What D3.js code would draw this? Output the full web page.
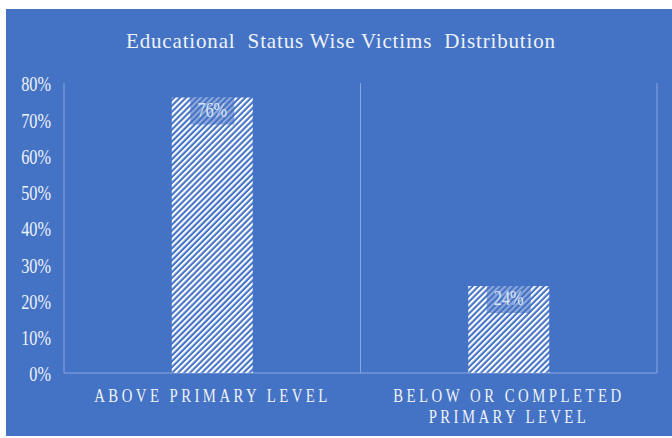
<!DOCTYPE html>
<html>
<head>
<meta charset="utf-8">
<script src="https://cdn.jsdelivr.net/npm/d3@7"></script>
<style>
  body { margin: 0; background: #fff; }
  text { font-family: "Liberation Serif", "DejaVu Serif", serif; fill: #eef2fa; }
</style>
</head>
<body>
<script>
//chart data
var categories = ["ABOVE PRIMARY LEVEL", "BELOW OR COMPLETED PRIMARY LEVEL"];
var catLines = [["ABOVE PRIMARY LEVEL"], ["BELOW OR COMPLETED", "PRIMARY LEVEL"]];
var values = [0.76, 0.24];
var yTicks = [0, 0.1, 0.2, 0.3, 0.4, 0.5, 0.6, 0.7, 0.8];
var title = "Educational  Status Wise Victims  Distribution";

var width = 672, height = 438;

var svg = d3.select("body")
  .append("svg")
  .attr("width", width)
  .attr("height", height);

//blue chart background
svg.append("rect")
  .attr("x", 6).attr("y", 9)
  .attr("width", width - 6).attr("height", height - 11)
  .attr("fill", "#4472c4");

//hatch pattern for bars
var defs = svg.append("defs");
defs.append("pattern")
  .attr("id", "hatch")
  .attr("patternUnits", "userSpaceOnUse")
  .attr("width", 4.2).attr("height", 4.2)
  .attr("patternTransform", "rotate(45)")
  .append("rect")
  .attr("width", 2.1).attr("height", 4.2)
  .attr("fill", "#fff");

//scales
var x = d3.scaleBand()
  .domain(categories)
  .range([64, 657])
  .paddingInner(0.727)
  .paddingOuter(0.3635);

var y = d3.scaleLinear()
  .domain([0, 0.8])
  .range([373, 83]);

//category separator lines
var step = x.step(), x0 = x.range()[0];
svg.selectAll(".sep")
  .data(d3.range(categories.length + 1))
  .enter()
  .append("line")
  .attr("class", "sep")
  .attr("x1", function(i){ return x0 + i * step; })
  .attr("x2", function(i){ return x0 + i * step; })
  .attr("y1", y(0.8))
  .attr("y2", y(0))
  .attr("stroke", "#8aa6de")
  .attr("stroke-width", 1);

//base line
svg.append("line")
  .attr("x1", x.range()[0]).attr("x2", x.range()[1])
  .attr("y1", y(0)).attr("y2", y(0))
  .attr("stroke", "#8aa6de")
  .attr("stroke-width", 1.2);

//bars
svg.selectAll(".bar")
  .data(values)
  .enter()
  .append("rect")
  .attr("class", "bar")
  .attr("x", function(d, i){ return x(categories[i]); })
  .attr("y", function(d){ return y(d); })
  .attr("width", x.bandwidth())
  .attr("height", function(d){ return y(0) - y(d); })
  .attr("fill", "url(#hatch)");

//data labels
var labels = svg.selectAll(".lbl")
  .data(values)
  .enter()
  .append("g")
  .attr("class", "lbl")
  .attr("transform", function(d, i){
    return "translate(" + (x(categories[i]) + x.bandwidth() / 2) + "," + y(d) + ")";
  });

labels.append("rect")
  .attr("x", -22).attr("y", 0)
  .attr("width", 44).attr("height", 27)
  .attr("fill", "#4472c4")
  .attr("opacity", 0.6);

labels.append("text")
  .attr("transform", "translate(0,19) scale(0.74,1)")
  .attr("text-anchor", "middle")
  .style("font-size", "22px")
  .style("fill", "#dbe4f5")
  .text(function(d){ return d3.format(".0%")(d); });

//y axis
var yAxis = svg.append("g")
  .attr("transform", "translate(64,0)")
  .call(d3.axisLeft(y).tickValues(yTicks).tickSize(0).tickFormat(d3.format(".0%")));
yAxis.select(".domain").remove();
yAxis.selectAll("text")
  .attr("x", -13 / 0.74)
  .attr("dy", "0.36em")
  .attr("transform", "scale(0.74,1)")
  .style("font-size", "22px")
  .style("font-family", "Liberation Serif, serif")
  .attr("fill", "#eef2fa");

//x labels
var xLab = svg.selectAll(".xlab")
  .data(catLines)
  .enter()
  .append("g")
  .attr("class", "xlab")
  .attr("transform", function(d, i){
    return "translate(" + (x(categories[i]) + x.bandwidth() / 2 - 1.5) + ",0)";
  });

var lineWidths = { "ABOVE PRIMARY LEVEL": 233, "BELOW OR COMPLETED": 228, "PRIMARY LEVEL": 157 };
xLab.selectAll("text")
  .data(function(d){ return d; })
  .enter()
  .append("text")
  .attr("transform", function(d, j){ return "translate(0," + (401.5 + j * 21) + ") scale(0.82,1)"; })
  .attr("text-anchor", "middle")
  .attr("textLength", function(d){ return lineWidths[d] / 0.82; })
  .attr("lengthAdjust", "spacing")
  .style("font-size", "18px")
  .text(function(d){ return d; });

//chart title
svg.append("text")
  .attr("x", 340.5)
  .attr("y", 48)
  .attr("text-anchor", "middle")
  .attr("textLength", 429)
  .attr("lengthAdjust", "spacing")
  .style("font-size", "21px")
  .style("white-space", "pre")
  .text(title);
</script>
</body>
</html>
